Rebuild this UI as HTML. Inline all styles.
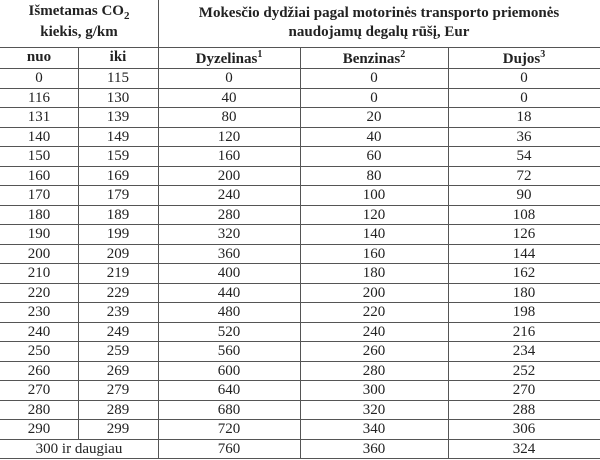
<!DOCTYPE html>
<html><head><meta charset="utf-8"><style>
body{margin:0;width:600px;height:460px;background:#fff;overflow:hidden;font-family:"Liberation Serif",serif;color:#222}
.a{position:absolute;white-space:nowrap;text-align:center;transform:translateX(-50%)}
.l{position:absolute;background:#555}
sup{font-size:10px}
</style></head><body>
<div id="c"></div>
<script>
var c=document.getElementById('c'),h='';
function t(x,y,s,st){h+='<div class="a" style="left:'+x+'px;top:'+y+'px;'+(st||'')+'">'+s+'</div>';}
function hl(x1,x2,y){h+='<div class="l" style="left:'+x1+'px;width:'+(x2-x1)+'px;top:'+y+'px;height:1px"></div>';}
function vl(x,y1,y2){h+='<div class="l" style="left:'+x+'px;top:'+y1+'px;height:'+(y2-y1)+'px;width:1px"></div>';}
var B='font-weight:bold;font-size:15px;';
t(79,3,'Išmetamas CO<sub style="font-size:11px">2</sub>',B);
t(79,24,'kiekis, g/km',B);
t(379,5,'Mokesčio dydžiai pagal motorinės transporto priemonės',B);
t(379,24,'naudojamų degalų rūšį, Eur',B);
t(39,49,'nuo',B);t(118,49,'iki',B);
t(229,49,'Dyzelinas<sup>1</sup>',B);t(374,49,'Benzinas<sup>2</sup>',B);t(524,49,'Dujos<sup>3</sup>',B);
var r=[[0,115,0,0,0],[116,130,40,0,0],[131,139,80,20,18],[140,149,120,40,36],[150,159,160,60,54],[160,169,200,80,72],[170,179,240,100,90],[180,189,280,120,108],[190,199,320,140,126],[200,209,360,160,144],[210,219,400,180,162],[220,229,440,200,180],[230,239,480,220,198],[240,249,520,240,216],[250,259,560,260,234],[260,269,600,280,252],[270,279,640,300,270],[280,289,680,320,288],[290,299,720,340,306]];
var y0=68,rh=19.5,S='font-size:15px;';
for(var i=0;i<r.length;i++){var y=y0+i*rh+2;t(39,y,r[i][0],S);t(118,y,r[i][1],S);t(229,y,r[i][2],S);t(374,y,r[i][3],S);t(524,y,r[i][4],S);}
var y=y0+19*rh+2;t(79,y,'300 ir daugiau',S);t(229,y,760,S);t(374,y,360,S);t(524,y,324,S);
hl(0,600,47);
for(var i=0;i<=20;i++)hl(0,600,Math.round(y0+i*rh));
vl(158,0,458);vl(78,47,Math.round(y0+19*rh));vl(300,47,458);vl(448,47,458);
c.innerHTML=h;
</script>
</body></html>
